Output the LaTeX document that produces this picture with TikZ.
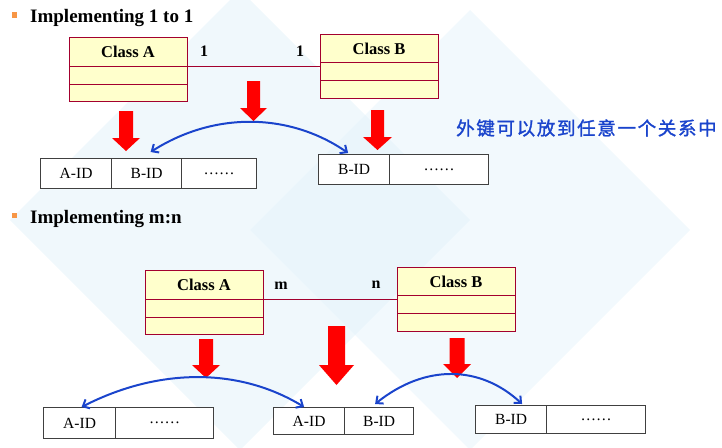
\documentclass[tikz,border=0pt]{standalone}
\usepackage{fontspec}
\setmainfont{Liberation Serif}
\newfontfamily\cjk[FakeBold=1.4,LetterSpace=9]{Noto Sans CJK SC}
\usetikzlibrary{arrows.meta,calc}
\definecolor{classfill}{HTML}{FFFFCC}
\definecolor{classline}{HTML}{A3002E}
\definecolor{arrowred}{HTML}{FF0000}
\definecolor{linkblue}{HTML}{1A44CC}
\definecolor{tableline}{HTML}{404040}
\definecolor{bullet}{HTML}{F79646}
\definecolor{bgblue}{HTML}{E3F2FA}
\newcommand\redarrow[6]{%
  \fill[arrowred] (#1-#4,#2) -- (#1+#4,#2) -- (#1+#4,#6) -- (#1+#5,#6) -- (#1,#3) -- (#1-#5,#6) -- (#1-#4,#6) -- cycle;}
\tikzset{
  classbox/.style={draw=classline, fill=classfill, line width=0.9pt, minimum width=118pt, minimum height=64pt, anchor=north west, inner sep=0pt},
  classname/.style={font=\fontsize{16.5}{18}\selectfont\bfseries, anchor=center},
  divider/.style={draw=classline, line width=0.9pt},
  assoc/.style={draw=classline, line width=0.8pt},
  mult/.style={font=\fontsize{16}{18}\selectfont\bfseries},
  cell/.style={draw=tableline, line width=1.2pt, fill=white, anchor=north west, inner sep=0pt, font=\fontsize{15.5}{18}\selectfont},
  link/.style={draw=linkblue, line width=2pt, {Straight Barb[length=5.5pt,width=10pt]}-{Straight Barb[length=5.5pt,width=10pt]}},
  heading/.style={font=\fontsize{19}{22}\selectfont\bfseries, anchor=base west, inner sep=0pt},
  bulletbox/.style={fill=bullet, minimum size=5.5pt, inner sep=0pt}
}
\begin{document}
\begin{tikzpicture}[x=1pt,y=-1pt]
\useasboundingbox (0,0) rectangle (722,447);
% faint background
\fill[bgblue, opacity=0.55] (10,220) -- (240,-10) -- (470,220) -- (240,450) -- cycle;
\fill[bgblue, opacity=0.45] (250,230) -- (470,10) -- (690,230) -- (470,450) -- cycle;

% ---------- Section 1 ----------
\node[bulletbox] (b1) at (14.5,15) {};
\node[heading] (h1) at (30,22) {Implementing 1 to 1};

\node[classbox] (ca1) at (69,37) {};
\node[classname] (ca1t) at (128,52) {Class A};
\draw[divider] ($(ca1.north west)+(0,29)$) -- ($(ca1.north east)+(0,29)$);
\draw[divider] ($(ca1.north west)+(0,47)$) -- ($(ca1.north east)+(0,47)$);

\node[classbox] (cb1) at (320,34) {};
\node[classname] (cb1t) at (379,49) {Class B};
\draw[divider] ($(cb1.north west)+(0,28)$) -- ($(cb1.north east)+(0,28)$);
\draw[divider] ($(cb1.north west)+(0,46)$) -- ($(cb1.north east)+(0,46)$);

\coordinate (l1a) at (187,66);
\coordinate (l1b) at (320,66);
\draw[assoc] (l1a) -- (l1b);
\node[mult] (m1a) at (204,51) {1};
\node[mult] (m1b) at (300,51) {1};

\redarrow{126}{111}{151}{7}{14}{138}
\redarrow{253.5}{81}{121}{6.5}{13.5}{108}
\redarrow{377.5}{110}{150}{6.5}{14.5}{137}

\node[cell, minimum width=71pt, minimum height=30pt] (t1a) at (40,158) {A-ID};
\node[cell, minimum width=70pt, minimum height=30pt] (t1b) at (111,158) {B-ID};
\node[cell, minimum width=75pt, minimum height=30pt] (t1c) at (181,158) {\dots\dots};

\node[cell, minimum width=71pt, minimum height=30pt] (t2a) at (318,154) {B-ID};
\node[cell, minimum width=99pt, minimum height=30pt] (t2b) at (389,154) {\dots\dots};

\draw[link] ($(t1b.north)+(4,-6)$) .. controls (215,111) and (290,113) .. ($(t2a.north)+(-6,-1)$);

\node[font=\fontsize{18.5}{20}\selectfont\cjk, text=linkblue, anchor=west, inner sep=0pt] (note) at (456,128) {外键可以放到任意一个关系中};

% ---------- Section 2 ----------
\node[bulletbox] (b2) at (14.5,215.5) {};
\node[heading] (h2) at (30,223) {Implementing m:n};

\node[classbox] (ca2) at (145,270) {};
\node[classname] (ca2t) at (204,285) {Class A};
\draw[divider] ($(ca2.north west)+(0,29)$) -- ($(ca2.north east)+(0,29)$);
\draw[divider] ($(ca2.north west)+(0,47)$) -- ($(ca2.north east)+(0,47)$);

\node[classbox] (cb2) at (397,267) {};
\node[classname] (cb2t) at (456,282) {Class B};
\draw[divider] ($(cb2.north west)+(0,28)$) -- ($(cb2.north east)+(0,28)$);
\draw[divider] ($(cb2.north west)+(0,46)$) -- ($(cb2.north east)+(0,46)$);

\coordinate (l2a) at (263,299);
\coordinate (l2b) at (397,299);
\draw[assoc] (l2a) -- (l2b);
\node[mult] (m2a) at (281,286) {m};
\node[mult] (m2b) at (376,285) {n};

\redarrow{206}{339}{378}{7}{14}{365}
\redarrow{336.5}{326}{385}{8.5}{17.5}{365}
\redarrow{457}{338}{378}{7.5}{14}{364}

\node[cell, minimum width=72pt, minimum height=31pt] (t3a) at (43,407) {A-ID};
\node[cell, minimum width=98pt, minimum height=31pt] (t3b) at (115,407) {\dots\dots};

\node[cell, minimum width=71pt, minimum height=27pt] (t4a) at (273,407) {A-ID};
\node[cell, minimum width=69pt, minimum height=27pt] (t4b) at (344,407) {B-ID};

\node[cell, minimum width=71pt, minimum height=28pt] (t5a) at (475,405) {B-ID};
\node[cell, minimum width=99pt, minimum height=28pt] (t5b) at (546,405) {\dots\dots};

\draw[link] ($(t3a.north)+(2,0)$) .. controls (160,367) and (240,368) .. ($(t4a.north)+(-5,0)$);
\draw[link] ($(t4b.north)+(-4,-3)$) .. controls (425,364) and (480,365) .. ($(t5a.north)+(11,-1)$);
\end{tikzpicture}
\end{document}
